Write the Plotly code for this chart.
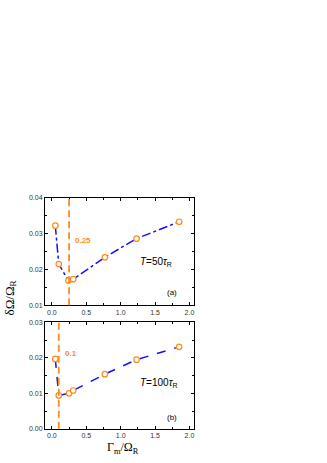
"""
Frequency uncertainty versus damping, two pulse durations.
"""
import plotly.graph_objects as graph
from plotly.subplots import make_subplots

# panel (a): T = 50 tau_R
gamma_a = [0.05, 0.10, 0.24, 0.31, 0.77, 1.23, 1.85]
delta_a = [0.0322, 0.0215, 0.0169, 0.0173, 0.0234, 0.0286, 0.0333]
# panel (b): T = 100 tau_R
gamma_b = [0.05, 0.10, 0.25, 0.31, 0.77, 1.23, 1.85]
delta_b = [0.0197, 0.0094, 0.0100, 0.0108, 0.0154, 0.0195, 0.0231]

optimum = [0.25, 0.1]
optimum_labels = ["0.25", "0.1"]
panel_labels = ["(a)", "(b)"]
duration_labels = ["<i>T</i>=50<i>τ</i><sub>R</sub>", "<i>T</i>=100<i>τ</i><sub>R</sub>"]

x_ticks = [0.0, 0.5, 1.0, 1.5, 2.0]
y_ticks_a = [0.01, 0.02, 0.03, 0.04]
y_ticks_b = [0.00, 0.01, 0.02, 0.03]

BLUE = "#1010ff"
ORANGE = "#ff8c1a"
W, H = 327, 463


def px(p):
    return p / W


def py(p):
    return 1 - p / H


fig = make_subplots(rows=2, cols=1)

series = [(gamma_a, delta_a, "dashdot"), (gamma_b, delta_b, "dash")]
for i, (xs, ys, dash) in enumerate(series):
    fig.add_trace(graph.Scatter(x=xs, y=ys, mode="lines",
                                line=dict(color=BLUE, width=1.5, dash=dash),
                                showlegend=False), row=i + 1, col=1)
    fig.add_trace(graph.Scatter(x=xs, y=ys, mode="markers",
                                marker=dict(symbol="circle", size=5.5, color="white",
                                            line=dict(width=1.2, color=ORANGE)),
                                showlegend=False), row=i + 1, col=1)

x_dom = [px(45), px(194.3)]
y_doms = [[py(306), py(196.7)], [py(431.3), py(323.3)]]
y_ranges = [[0.01, 0.04], [0.0, 0.03]]
y_ticks = [y_ticks_a, y_ticks_b]
label_y = [0.0281, 0.0211]
label_x = [0.30, 0.16]
duration_y = [0.0220, 0.0129]
panel_y = [0.0137, 0.0031]

axis_common = dict(showline=True, linecolor="black", linewidth=1, mirror="ticks",
                   ticks="inside", ticklen=3, tickwidth=1, tickcolor="black",
                   showgrid=False, zeroline=False,
                   tickfont=dict(family="Liberation Sans, Arial", size=7, color="#333333"))

for i in range(2):
    xa = "xaxis" if i == 0 else "xaxis2"
    ya = "yaxis" if i == 0 else "yaxis2"
    fig.layout[xa].update(domain=x_dom, range=[-0.1, 2.07], tickvals=x_ticks,
                          ticktext=["%.1f" % v for v in x_ticks],
                          minor=dict(dtick=0.25, ticks="inside", ticklen=2,
                                     tickcolor="black"),
                          **axis_common)
    fig.layout[ya].update(domain=y_doms[i], range=y_ranges[i], tickvals=y_ticks[i],
                          ticktext=["%.2f" % v for v in y_ticks[i]],
                          minor=dict(dtick=0.005, ticks="inside", ticklen=2,
                                     tickcolor="black"),
                          **axis_common)
    xref = "x" if i == 0 else "x2"
    yref = "y" if i == 0 else "y2"
    fig.add_shape(type="line", xref=xref, yref=yref + " domain",
                  x0=optimum[i], x1=optimum[i], y0=0, y1=1,
                  line=dict(color=ORANGE, width=1.8, dash="7px,4px"))
    fig.add_annotation(xref=xref, yref=yref, x=label_x[i], y=label_y[i],
                       text="<b>%s</b>" % optimum_labels[i], showarrow=False,
                       xanchor="left", yanchor="middle",
                       font=dict(family="Liberation Sans, Arial", size=8, color=ORANGE))
    fig.add_annotation(xref=xref, yref=yref, x=1.25, y=duration_y[i],
                       text=duration_labels[i], showarrow=False,
                       xanchor="left", yanchor="middle",
                       font=dict(family="Liberation Sans, Arial", size=10, color="black"))
    fig.add_annotation(xref=xref, yref=yref, x=1.64, y=panel_y[i],
                       text=panel_labels[i], showarrow=False,
                       xanchor="left", yanchor="middle",
                       font=dict(family="Liberation Sans, Arial", size=8, color="black"))

fig.add_annotation(xref="paper", yref="paper", x=px(10), y=py(298),
                   xanchor="center", yanchor="middle",
                   text="δΩ/Ω<sub>R</sub>", textangle=-90, showarrow=False,
                   font=dict(family="Liberation Serif, Times New Roman", size=13,
                             color="black"))
fig.add_annotation(xref="paper", yref="paper", x=px(123), y=py(451),
                   xanchor="center", yanchor="middle",
                   text="Γ<sub>m</sub>/Ω<sub>R</sub>", showarrow=False,
                   font=dict(family="Liberation Serif, Times New Roman", size=12,
                             color="black"))

fig.update_layout(width=W, height=H, margin=dict(l=0, r=0, t=0, b=0),
                  paper_bgcolor="white", plot_bgcolor="white")
# drop the default page margin so the figure sits at the window's corner
fig.write_html("out.html", config={"displayModeBar": False},
               post_script="document.body.style.margin = '0';")
